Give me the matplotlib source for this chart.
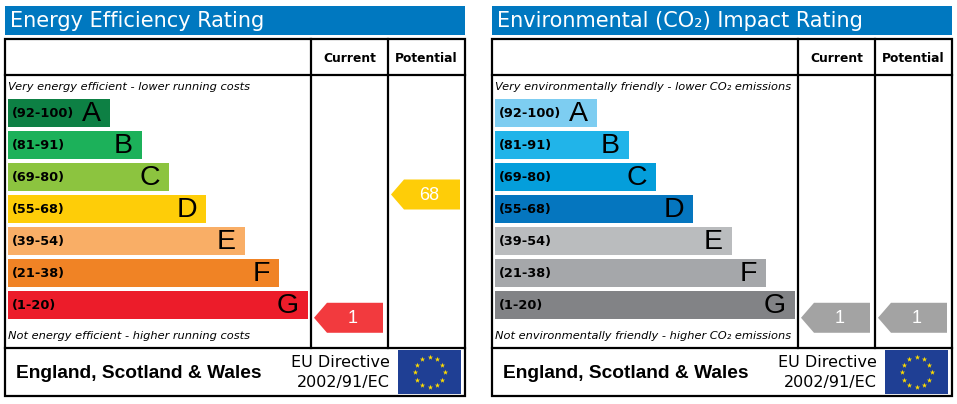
import numpy as np
import matplotlib
matplotlib.use("Agg")
import matplotlib.pyplot as plt
from matplotlib.patches import Rectangle, Polygon

# ---- data ----
bands = ["A", "B", "C", "D", "E", "F", "G"]
ranges = ["(92-100)", "(81-91)", "(69-80)", "(55-68)", "(39-54)", "(21-38)", "(1-20)"]
ee_colors = ["#0d8044", "#1cb15a", "#8cc43f", "#fecd08", "#f9ae66", "#f08325", "#ec1c2a"]
co2_colors = ["#7dcdf1", "#21b4e9", "#049edb", "#0576bf", "#babcbe", "#a5a7aa", "#828386"]
ee_current, ee_potential = 1, 68
co2_current, co2_potential = 1, 1
ee_arrow_colors = {"current": "#f23a3e", "potential": "#fecd08"}
co2_arrow_colors = {"current": "#a3a3a3", "potential": "#a3a3a3"}

# layout (pixels)
bar_ends = [110, 142, 169, 206, 245, 279, 308]
W, H = 957, 404

fig = plt.figure(figsize=(W / 100, H / 100), dpi=100)
ax = fig.add_axes([0, 0, 1, 1])
ax.set_xlim(0, W)
ax.set_ylim(H, 0)
ax.axis("off")


def val_to_y(v):
    # arrow centre from rating value
    return 194.5 + (68 - v) * 1.84


def arrow(x0, x1, v, color):
    yc = val_to_y(v)
    h = 15
    pts = [(x0, yc), (x0 + 13, yc - h), (x1, yc - h), (x1, yc + h), (x0 + 13, yc + h)]
    ax.add_patch(Polygon(pts, closed=True, facecolor=color, edgecolor="none"))
    ax.text((x0 + x1) / 2 + 4, yc + 0.5, str(v), color="white", fontsize=13,
            family="Liberation Sans", ha="center", va="center")


def panel(off, title, colors, top_note, bottom_note, cur, pot, arrow_colors):
    # title bar
    ax.add_patch(Rectangle((off + 5, 6), 460, 29, facecolor="#0078c0", edgecolor="none"))
    ax.text(off + 10, 21, title, color="white", fontsize=15, ha="left", va="center")
    # box
    lw = 1.6
    ax.add_patch(Rectangle((off + 5, 39), 460, 357, facecolor="white", edgecolor="black", lw=lw))
    ax.plot([off + 5, off + 465], [75, 75], color="black", lw=lw)
    ax.plot([off + 5, off + 465], [348, 348], color="black", lw=lw)
    for xc in (311, 388):
        ax.plot([off + xc, off + xc], [39, 348], color="black", lw=lw)
    ax.text(off + 349.5, 58, "Current", fontsize=8.8, weight="bold", ha="center", va="center")
    ax.text(off + 426.5, 58, "Potential", fontsize=8.8, weight="bold", ha="center", va="center")
    ax.text(off + 8, 87, top_note, fontsize=8.2, style="italic", ha="left", va="center")
    ax.text(off + 8, 336, bottom_note, fontsize=8.2, style="italic", ha="left", va="center")
    # bands
    for i, (b, r, c) in enumerate(zip(bands, ranges, colors)):
        y0 = 99 + 32 * i
        xe = off + bar_ends[i]
        ax.add_patch(Rectangle((off + 8, y0), xe - off - 8, 28, facecolor=c, edgecolor="none"))
        ax.text(off + 12, y0 + 14.5, r, fontsize=9.3, weight="bold", ha="left", va="center")
        ax.text(xe - 9, y0 + 15, b, fontsize=20.5, family="Liberation Sans",
                ha="right", va="center")
    # arrows
    arrow(off + 314, off + 383, cur, arrow_colors["current"])
    arrow(off + 391, off + 460, pot, arrow_colors["potential"])
    # footer
    ax.text(off + 16, 374, "England, Scotland & Wales", fontsize=13.8, weight="bold",
            family="Liberation Sans", ha="left", va="center")
    ax.text(off + 390, 362.5, "EU Directive", fontsize=11.5, ha="right", va="center")
    ax.text(off + 390, 382, "2002/91/EC", fontsize=11.5, ha="right", va="center")
    ax.add_patch(Rectangle((off + 398, 350), 63, 44, facecolor="#1f3f94", edgecolor="none"))
    ang = np.arange(12) * np.pi / 6
    ax.scatter(off + 429.5 + 15 * np.cos(ang), 372 + 15 * np.sin(ang), marker="*",
               s=16, color="#ffdd00", linewidths=0)


panel(0, "Energy Efficiency Rating", ee_colors,
      "Very energy efficient - lower running costs",
      "Not energy efficient - higher running costs",
      ee_current, ee_potential, ee_arrow_colors)
panel(487, "Environmental (CO\u2082) Impact Rating", co2_colors,
      "Very environmentally friendly - lower CO\u2082 emissions",
      "Not environmentally friendly - higher CO\u2082 emissions",
      co2_current, co2_potential, co2_arrow_colors)

fig.savefig("out.png", dpi=100)
